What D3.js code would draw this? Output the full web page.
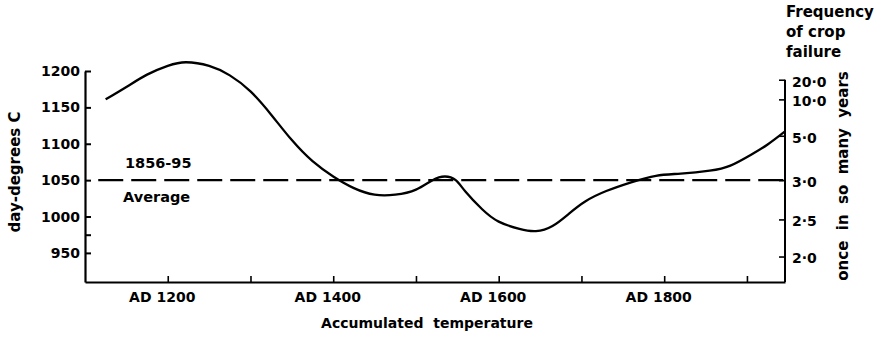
<!DOCTYPE html>
<html>
<head>
<meta charset="utf-8">
<script src="https://cdn.jsdelivr.net/npm/d3@7"></script>
<style>
  body { margin: 0; background: #fff; }
  text { font-family: "DejaVu Sans", sans-serif; font-weight: bold; fill: #000; }
</style>
</head>
<body>
<svg id="chart" width="880" height="339"></svg>
<script>
// Accumulated temperature (day-degrees C) through the centuries
const years = [1125, 1150, 1175, 1200, 1222, 1250, 1275, 1300, 1325, 1350, 1375, 1400, 1425, 1450,
               1475, 1500, 1520, 1535, 1548, 1560, 1580, 1600, 1625, 1645, 1665, 1685, 1705, 1730,
               1760, 1790, 1820, 1855, 1880, 1905, 1925, 1946];
const temps = [1161, 1178, 1195, 1207, 1212, 1207, 1194, 1172, 1140, 1105, 1076, 1055, 1039, 1030,
               1030, 1037, 1050, 1055, 1050, 1034, 1010, 993, 983, 980, 987, 1004, 1021, 1035,
               1047, 1056, 1059, 1063, 1070, 1085, 1099, 1117];

// 1856-95 average and the span of the reference line
const averageTemp = 1050;
const averageSpan = [1116, 1946];

// Axis extents and ticks
const yearDomain = [1100, 1946];
const tempDomain = [910, 1200];
const yearTicks = [1200, 1300, 1400, 1500, 1600, 1700, 1800, 1900];
const yearLabels = [1200, 1400, 1600, 1800];
const tempTicks = [1200, 1150, 1100, 1050, 1000, 975, 950];
const tempLabels = [1200, 1150, 1100, 1050, 1000, 950];

// Frequency of crop failure (once in so many years) and its equivalent accumulated temperature
const freqLabels = ["20·0", "10·0", "5·0", "3·0", "2·5", "2·0"];
const freqTemps = [1188, 1161, 1111, 1050, 996, 945];
const freqTop = 1188;

const svg = d3.select("#chart");
const x = d3.scaleLinear().domain(yearDomain).range([85, 785]);
const y = d3.scaleLinear().domain(tempDomain).range([282, 71]);

// Left axis: day-degrees
const leftAxis = svg.append("g")
  .attr("transform", `translate(${x.range()[0]},0)`)
  .call(d3.axisLeft(y).tickValues(tempTicks).tickSizeInner(-6).tickSizeOuter(0).tickPadding(5)
    .tickFormat(d => tempLabels.includes(d) ? d : ""));
leftAxis.select(".domain").attr("stroke-width", 2.2);
leftAxis.selectAll(".tick line").attr("stroke-width", 2);
leftAxis.selectAll("text").style("font-size", "14px");

// Bottom axis: centuries
const bottomAxis = svg.append("g")
  .attr("transform", `translate(0,${y.range()[0]})`)
  .call(d3.axisBottom(x).tickValues(yearTicks).tickSizeInner(-6).tickSizeOuter(0).tickPadding(10)
    .tickFormat(d => yearLabels.includes(d) ? "AD " + d : ""));
bottomAxis.select(".domain").attr("stroke-width", 2);
bottomAxis.selectAll(".tick line").attr("stroke-width", 1.6);
bottomAxis.selectAll("text").style("font-size", "14px").attr("dx", -6);

// Right axis: frequency of crop failure
const rightX = x.range()[1];
const rightAxis = svg.append("g")
  .attr("transform", `translate(${rightX},0)`)
  .call(d3.axisRight(y).tickValues(freqTemps).tickSizeInner(-6).tickSizeOuter(0).tickPadding(7)
    .tickFormat((d, i) => freqLabels[i]));
rightAxis.select(".domain").remove();
rightAxis.append("line")
  .attr("x1", 0).attr("x2", 0)
  .attr("y1", y(freqTop)).attr("y2", y(tempDomain[0]))
  .attr("stroke", "#000").attr("stroke-width", 2);
rightAxis.selectAll(".tick line").attr("stroke-width", 1.6);
rightAxis.selectAll("text").style("font-size", "14px").attr("dy", "0.45em");

// Average reference line
svg.append("line")
  .attr("x1", x(averageSpan[0])).attr("x2", x(averageSpan[1]))
  .attr("y1", y(averageTemp)).attr("y2", y(averageTemp))
  .attr("stroke", "#000").attr("stroke-width", 2.2)
  .attr("stroke-dasharray", "25,8");

// Accumulated temperature curve (smooth spline through the readings)
const line = d3.line()
  .x((d, i) => x(years[i]))
  .y(d => y(d))
  .curve(d3.curveNatural);
svg.append("path")
  .datum(temps)
  .attr("d", line)
  .attr("fill", "none")
  .attr("stroke", "#000")
  .attr("stroke-width", 2.3);

// Average annotation
svg.append("text").attr("x", 125).attr("y", y(averageTemp) - 12)
  .style("font-size", "14.5px").text("1856-95");
svg.append("text").attr("x", 123).attr("y", y(averageTemp) + 22)
  .style("font-size", "14.5px").text("Average");

// Axis titles
svg.append("text")
  .attr("transform", `translate(20,172) rotate(-90)`)
  .attr("text-anchor", "middle")
  .style("font-size", "15px")
  .text("day-degrees  C");

svg.append("text")
  .attr("transform", `translate(848,176) rotate(-90)`)
  .attr("text-anchor", "middle")
  .style("font-size", "15px")
  .attr("xml:space", "preserve")
  .text("once  in  so  many  years");

svg.append("text")
  .attr("x", 427).attr("y", 328)
  .attr("text-anchor", "middle")
  .style("font-size", "14px")
  .attr("xml:space", "preserve")
  .text("Accumulated  temperature");

const freqTitle = svg.append("text").style("font-size", "15px");
["Frequency", "of crop", "failure"].forEach((t, i) => {
  freqTitle.append("tspan").attr("x", 786).attr("y", 17 + i * 20).text(t);
});
</script>
</body>
</html>
